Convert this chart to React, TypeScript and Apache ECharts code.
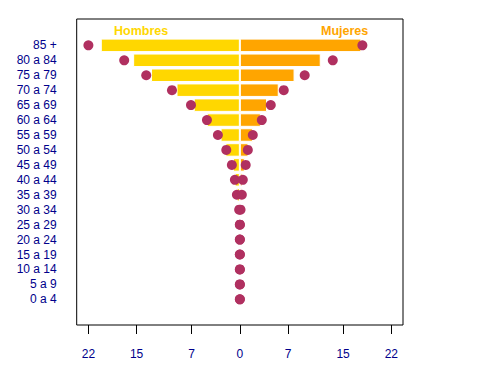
import React, { useEffect, useRef } from "react";
import * as echarts from "echarts";

const categories = [
  "0 a 4", "5 a 9", "10 a 14", "15 a 19", "20 a 24", "25 a 29", "30 a 34", "35 a 39", "40 a 44",
  "45 a 49", "50 a 54", "55 a 59", "60 a 64", "65 a 69", "70 a 74", "75 a 79", "80 a 84", "85 +",
];
const hombresBar = [0, 0, 0, 0, 0, 0.05, 0.2, 0.45, 0.75, 1.0, 2.1, 2.8, 4.8, 6.7, 9.2, 12.9, 15.5, 20.2];
const mujeresBar = [0, 0, 0, 0, 0, 0.05, 0.15, 0.28, 0.38, 0.72, 1.25, 1.9, 3.05, 3.95, 5.65, 7.95, 11.75, 17.65];
const hombresDot = [0, 0, 0, 0, 0, 0, 0.1, 0.43, 0.72, 1.16, 1.97, 3.19, 4.78, 7.1, 9.86, 13.6, 16.8, 22.0];
const mujeresDot = [0, 0, 0, 0, 0, 0, 0.1, 0.29, 0.43, 0.85, 1.16, 1.88, 3.19, 4.49, 6.38, 9.42, 13.5, 17.8];
const tickValues = [-22, -15, -7, 0, 7, 15, 22];

const labelColor = "#00008B";
const fontFamily = "Liberation Sans, Arial, sans-serif";

export default function App() {
  const ref = useRef<HTMLDivElement>(null);
  useEffect(() => {
    if (!ref.current) return;
    const chart = echarts.init(ref.current, null, { renderer: "svg" });
    const xMin = -23.7;
    const xMax = 23.7;
    chart.setOption({
      animation: false,
      backgroundColor: "#fff",
      grid: [
        { left: 76.7, right: 77, top: 19, bottom: 58, show: true, borderColor: "#000", borderWidth: 1, backgroundColor: "transparent" },
        { left: 76.7, right: 77, top: 37.9, bottom: 76.2 },
      ],
      xAxis: [
        {
          gridIndex: 0,
          type: "value",
          min: xMin,
          max: xMax,
          axisLine: { show: false },
          splitLine: { show: false },
          axisTick: { show: true, length: 9, customValues: tickValues, lineStyle: { color: "#000", width: 1 } },
          axisLabel: {
            customValues: tickValues,
            formatter: (v: number) => String(Math.abs(v)),
            margin: 23,
            color: labelColor,
            fontSize: 12,
            fontFamily,
          },
        },
        { gridIndex: 1, type: "value", min: xMin, max: xMax, show: false },
      ],
      yAxis: [
        { gridIndex: 0, type: "value", show: false },
        {
          gridIndex: 1,
          type: "category",
          data: categories,
          axisLine: { show: false },
          axisTick: { show: false },
          splitLine: { show: false },
          axisLabel: { interval: 0, margin: 20, color: labelColor, fontSize: 12, fontFamily },
        },
      ],
      series: [
        {
          name: "Hombres",
          type: "bar",
          xAxisIndex: 1,
          yAxisIndex: 1,
          data: hombresBar.map((v) => -v),
          barWidth: 13.5,
          barGap: "-100%",
          itemStyle: { color: "#FFD700", borderColor: "#fff", borderWidth: 1 },
        },
        {
          name: "Mujeres",
          type: "bar",
          xAxisIndex: 1,
          yAxisIndex: 1,
          data: mujeresBar,
          barWidth: 13.5,
          barGap: "-100%",
          itemStyle: { color: "#FFA500", borderColor: "#fff", borderWidth: 1 },
        },
        {
          type: "scatter",
          xAxisIndex: 1,
          yAxisIndex: 1,
          data: hombresDot.map((v, i) => [-v, i]),
          symbolSize: 10,
          itemStyle: { color: "#B03060", opacity: 1 },
          z: 5,
        },
        {
          type: "scatter",
          xAxisIndex: 1,
          yAxisIndex: 1,
          data: mujeresDot.map((v, i) => [v, i]),
          symbolSize: 10,
          itemStyle: { color: "#B03060", opacity: 1 },
          z: 5,
        },
      ],
      graphic: [
        {
          type: "text",
          left: 114,
          top: 24.5,
          style: { text: "Hombres", fill: "#FFD700", font: `bold 12.5px ${fontFamily}` },
        },
        {
          type: "text",
          left: 321,
          top: 24.5,
          style: { text: "Mujeres", fill: "#FFA500", font: `bold 12.5px ${fontFamily}` },
        },
      ],
    });
    return () => chart.dispose();
  }, []);
  return <div ref={ref} style={{ position: "fixed", left: 0, top: 0, width: 480, height: 383 }} />;
}
